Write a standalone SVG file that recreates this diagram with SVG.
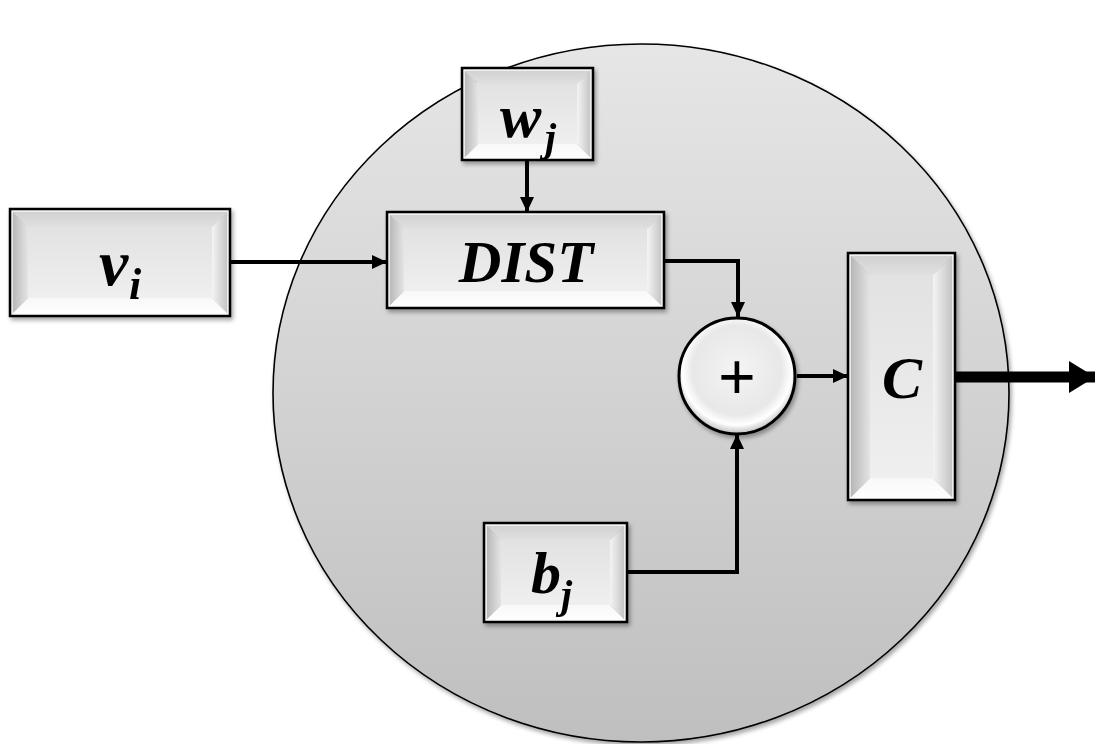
<svg xmlns="http://www.w3.org/2000/svg" width="1095" height="744" viewBox="0 0 1095 744">
  <defs>
    <linearGradient id="bigFill" x1="0" y1="0" x2="0" y2="1">
      <stop offset="0" stop-color="#e6e6e6"/>
      <stop offset="1" stop-color="#bfbfbf"/>
    </linearGradient>
    <radialGradient id="sumFill" cx="0.5" cy="0.45" r="0.55">
      <stop offset="0" stop-color="#f4f4f4"/>
      <stop offset="0.7" stop-color="#e8e8e8"/>
      <stop offset="0.86" stop-color="#ffffff"/>
      <stop offset="1" stop-color="#bdbdbd"/>
    </radialGradient>
    <linearGradient id="faceG" x1="0" y1="0" x2="0" y2="1">
      <stop offset="0" stop-color="#e2e2e2"/>
      <stop offset="1" stop-color="#efefef"/>
    </linearGradient>
    <linearGradient id="topG" x1="0" y1="0" x2="0" y2="1">
      <stop offset="0" stop-color="#cfcfcf"/>
      <stop offset="1" stop-color="#e0e0e0"/>
    </linearGradient>
    <linearGradient id="botG" x1="0" y1="0" x2="0" y2="1">
      <stop offset="0" stop-color="#f8f8f8"/>
      <stop offset="1" stop-color="#ffffff"/>
    </linearGradient>
    <linearGradient id="leftG" x1="0" y1="0" x2="1" y2="0">
      <stop offset="0" stop-color="#b0b0b0"/>
      <stop offset="1" stop-color="#e4e4e4"/>
    </linearGradient>
    <linearGradient id="rightG" x1="0" y1="0" x2="1" y2="0">
      <stop offset="0" stop-color="#f4f4f4"/>
      <stop offset="1" stop-color="#bcbcbc"/>
    </linearGradient>
    <filter id="shadow" x="-10%" y="-10%" width="130%" height="130%">
      <feDropShadow dx="2" dy="3" stdDeviation="2" flood-color="#000" flood-opacity="0.35"/>
    </filter>
    <marker id="arrow" viewBox="0 0 15 14" refX="15" refY="7" markerWidth="15" markerHeight="14" markerUnits="userSpaceOnUse" orient="auto">
      <path d="M0,0 L15,7 L0,14 z" fill="#000"/>
    </marker>
    <marker id="bigArrow" viewBox="0 0 26 32" refX="26" refY="16" markerWidth="26" markerHeight="32" markerUnits="userSpaceOnUse" orient="auto">
      <path d="M0,0 L26,16 L0,32 z" fill="#000"/>
    </marker>
  </defs>
  <style>
    .border { fill: none; stroke: #000; stroke-width: 2.5; }
    .hl { fill: none; stroke: #fafafa; stroke-width: 1.5; }
    .face { fill: url(#faceG); }
    .tb { fill: url(#topG); }
    .bb { fill: url(#botG); }
    .lb { fill: url(#leftG); }
    .rb { fill: url(#rightG); }
    .lbl { font-family: "Liberation Serif", "Times New Roman", serif; font-weight: bold; font-style: italic; fill: #000; }
    .wire { fill: none; stroke: #000; stroke-width: 4; }
    .out { fill: none; stroke: #000; stroke-width: 11; }
  </style>

  <rect width="1095" height="744" fill="#ffffff"/>

  <!-- neuron body -->
  <g id="neuron">
    <ellipse cx="641" cy="393" rx="368" ry="349" fill="url(#bigFill)" stroke="#000" stroke-width="1.6" filter="url(#shadow)"/>
  </g>

  <!-- connectors -->
  <g id="connectors">
    <path class="wire" d="M230,262 H387" marker-end="url(#arrow)"/>
    <path class="wire" d="M527,160 V212" marker-end="url(#arrow)"/>
    <path class="wire" d="M664,261 H738 V317" marker-end="url(#arrow)"/>
    <path class="wire" d="M627,572 H737 V434" marker-end="url(#arrow)"/>
    <path class="wire" d="M797,376 H848" marker-end="url(#arrow)"/>
    <path class="out" d="M955,377 H1095" marker-end="url(#bigArrow)"/>
  </g>

  <!-- input v_i -->
  <g id="node-vi" filter="url(#shadow)">
    <rect x="28" y="227" width="184" height="71" class="face"/>
    <polygon class="tb" points="10,209 230,209 212,227 28,227"/>
    <polygon class="bb" points="10,316 230,316 212,298 28,298"/>
    <polygon class="lb" points="10,209 28,227 28,298 10,316"/>
    <polygon class="rb" points="230,209 212,227 212,298 230,316"/>
    <rect x="12" y="211" width="216" height="103" class="hl"/>
    <rect x="10" y="209" width="220" height="107" class="border"/>
    <text class="lbl" x="99" y="285" font-size="66">v</text>
    <text class="lbl" x="129" y="299" font-size="44">i</text>
  </g>

  <!-- weight w_j -->
  <g id="node-wj" filter="url(#shadow)">
    <rect x="478" y="84" width="99" height="60" class="face"/>
    <polygon class="tb" points="462,68 593,68 577,84 478,84"/>
    <polygon class="bb" points="462,160 593,160 577,144 478,144"/>
    <polygon class="lb" points="462,68 478,84 478,144 462,160"/>
    <polygon class="rb" points="593,68 577,84 577,144 593,160"/>
    <rect x="464" y="70" width="127" height="88" class="hl"/>
    <rect x="462" y="68" width="131" height="92" class="border"/>
    <text class="lbl" x="500" y="137" font-size="62">w</text>
    <text class="lbl" x="545" y="151" font-size="40">j</text>
  </g>

  <!-- distance block -->
  <g id="node-dist" filter="url(#shadow)">
    <rect x="404" y="229" width="243" height="62" class="face"/>
    <polygon class="tb" points="387,212 664,212 647,229 404,229"/>
    <polygon class="bb" points="387,308 664,308 647,291 404,291"/>
    <polygon class="lb" points="387,212 404,229 404,291 387,308"/>
    <polygon class="rb" points="664,212 647,229 647,291 664,308"/>
    <rect x="389" y="214" width="273" height="92" class="hl"/>
    <rect x="387" y="212" width="277" height="96" class="border"/>
    <text class="lbl" x="526" y="282" font-size="59" text-anchor="middle">DIST</text>
  </g>

  <!-- summing junction -->
  <g id="node-sum" filter="url(#shadow)">
    <circle cx="737" cy="376" r="58" fill="url(#sumFill)" stroke="#000" stroke-width="3"/>
    <text x="737" y="399" font-family="Liberation Sans, Arial, sans-serif" font-size="64" text-anchor="middle" fill="#000">+</text>
  </g>

  <!-- bias b_j -->
  <g id="node-bj" filter="url(#shadow)">
    <rect x="501" y="540" width="109" height="65" class="face"/>
    <polygon class="tb" points="484,523 627,523 610,540 501,540"/>
    <polygon class="bb" points="484,622 627,622 610,605 501,605"/>
    <polygon class="lb" points="484,523 501,540 501,605 484,622"/>
    <polygon class="rb" points="627,523 610,540 610,605 627,622"/>
    <rect x="486" y="525" width="139" height="95" class="hl"/>
    <rect x="484" y="523" width="143" height="99" class="border"/>
    <text class="lbl" x="531" y="593" font-size="60">b</text>
    <text class="lbl" x="561" y="608" font-size="40">j</text>
  </g>

  <!-- output block C -->
  <g id="node-c" filter="url(#shadow)">
    <rect x="870" y="275" width="63" height="203" class="face"/>
    <polygon class="tb" points="848,253 955,253 933,275 870,275"/>
    <polygon class="bb" points="848,500 955,500 933,478 870,478"/>
    <polygon class="lb" points="848,253 870,275 870,478 848,500"/>
    <polygon class="rb" points="955,253 933,275 933,478 955,500"/>
    <rect x="850" y="255" width="103" height="243" class="hl"/>
    <rect x="848" y="253" width="107" height="247" class="border"/>
    <text class="lbl" x="902" y="398" font-size="60" text-anchor="middle">C</text>
  </g>
</svg>
